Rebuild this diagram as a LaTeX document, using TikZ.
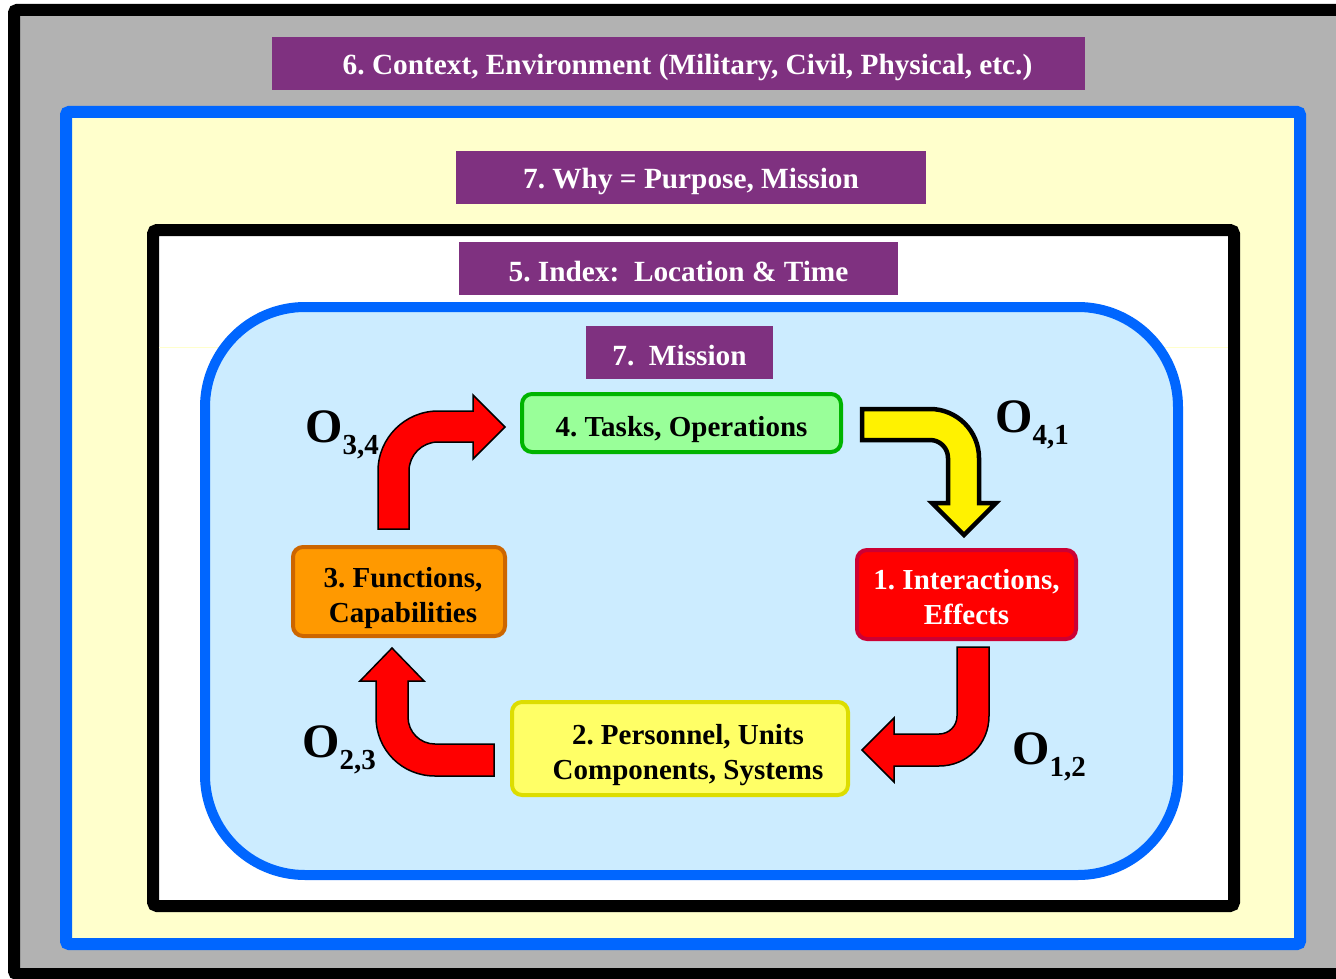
\documentclass[tikz,border=0pt]{standalone}
\usepackage{fontspec}
\setmainfont{Liberation Serif}
\frenchspacing
\definecolor{framegray}{HTML}{B2B2B2}
\definecolor{frameblue}{HTML}{0066FF}
\definecolor{cream}{HTML}{FFFFCC}
\definecolor{skyfill}{HTML}{CCECFF}
\definecolor{purp}{HTML}{7F3180}
\definecolor{greenfill}{HTML}{99FF99}
\definecolor{greenline}{HTML}{00B400}
\definecolor{redline}{HTML}{CC0033}
\definecolor{yelfill}{HTML}{FFFF66}
\definecolor{yelline}{HTML}{DDDD00}
\definecolor{orfill}{HTML}{FF9900}
\definecolor{orline}{HTML}{CC6600}
\begin{document}
\begin{tikzpicture}[x=1pt,y=-1pt,
  lbl/.style={fill=purp, inner sep=0pt},
  lbltext/.style={text=white, inner sep=0pt, font=\fontsize{29.3}{34}\selectfont\bfseries},
  stage/.style={rounded corners=10pt, line width=4pt, inner sep=0pt},
  stagetext/.style={align=center, inner sep=0pt, font=\fontsize{29}{35}\selectfont\bfseries},
  bent/.style={line width=1.5pt, draw=black, line join=miter},
  olabel/.style={inner sep=0pt, font=\bfseries}]
\useasboundingbox (0,0) rectangle (1336,979);
\begin{scope}
\clip (0,0) rectangle (1336,979);
% outer frame
\draw[line width=12pt, rounded corners=3pt, fill=framegray] (14,10) rectangle (1352,974);
\end{scope}
% blue frame with cream fill
\draw[line width=12pt, rounded corners=3pt, draw=frameblue, fill=cream] (66,112) rectangle (1300,944);
% black frame with white fill
\draw[line width=12pt, rounded corners=4pt, fill=white] (153,230) rectangle (1234,906);
\draw[cream, line width=1pt] (159,347) -- (1228,347);
% rounded mission area
\draw[line width=10pt, draw=frameblue, fill=skyfill, rounded corners=100pt] (205,307) rectangle (1178,875);

% title bars
\node[lbl, minimum width=813pt, minimum height=53pt] (ctx) at (678.5,63.5) {};
\node[lbltext] at ([xshift=9pt, yshift=-3.5pt]ctx.center) {6. Context, Environment (Military, Civil, Physical, etc.)};
\node[lbl, minimum width=470pt, minimum height=53pt] (why) at (691,177.5) {};
\node[lbltext] at ([yshift=-3.5pt]why.center) {7. Why = Purpose, Mission};
\node[lbl, minimum width=439pt, minimum height=53pt] (idx) at (678.5,268.5) {};
\node[lbltext] at ([yshift=-3pt]idx.center) {5. Index:\ \ Location \& Time};
\node[lbl, minimum width=187pt, minimum height=53pt] (mis) at (679.5,352.5) {};
\node[lbltext] at ([yshift=-3pt]mis.center) {7.\ \ Mission};

% stages
\node[stage, fill=greenfill, draw=greenline, minimum width=319pt, minimum height=58pt] (tasks) at (681.5,423) {};
\node[stagetext] at ([yshift=-7pt]tasks.center) {4. Tasks, Operations};
\node[stage, fill=red, draw=redline, minimum width=219pt, minimum height=89pt] (inter) at (966.5,594.5) {};
\node[stagetext, text=white] at ([yshift=-3pt]inter.center) {1. Interactions,\\Effects};
\node[stage, fill=yelfill, draw=yelline, minimum width=336pt, minimum height=93pt] (pers) at (680,748.5) {};
\node[stagetext] at ([xshift=8pt, yshift=-7pt]pers.center) {2. Personnel, Units\\Components, Systems};
\node[stage, fill=orfill, draw=orline, minimum width=212pt, minimum height=89pt] (func) at (399,591.5) {};
\node[stagetext] at ([xshift=4pt, yshift=-6.5pt]func.center) {3. Functions,\\Capabilities};

% bent arrows between stages
\filldraw[bent, fill=red] (378,529) -- (378,471) .. controls (378,438) and (405,411) .. (438,411)
  -- (473,411) -- (473,395) -- (505,427) -- (473,459) -- (473,442) -- (438,442)
  .. controls (422,442) and (409,455) .. (409,471) -- (409,529) -- cycle;
\filldraw[line width=4.5pt, draw=black, fill=yellow, line join=miter] (862,409) -- (930,409)
  .. controls (957,409) and (979,431) .. (979,458) -- (979,503) -- (996,503) -- (964,535)
  -- (932,503) -- (948,503) -- (948,458) .. controls (948,448) and (940,440) .. (930,440)
  -- (862,440) -- cycle;
\filldraw[bent, fill=red] (957,647) -- (989,647) -- (989,716) .. controls (989,744) and (967,766) .. (939,766)
  -- (894,766) -- (894,782) -- (862,750) -- (894,718) -- (894,734) -- (939,734)
  .. controls (949,734) and (957,726) .. (957,716) -- cycle;
\filldraw[bent, fill=red] (494,744) -- (494,776) -- (435,776) .. controls (402,776) and (376,750) .. (376,717)
  -- (376,681) -- (360,681) -- (392,648) -- (424,681) -- (408,681) -- (408,717)
  .. controls (408,732) and (420,744) .. (435,744) -- cycle;

% transition labels
\node[olabel, anchor=base west] (o34) at (305,442) {\fontsize{48}{48}\selectfont O\raisebox{-12pt}{\fontsize{29}{29}\selectfont 3,4}};
\node[olabel, anchor=base west] (o41) at (995,432) {\fontsize{48}{48}\selectfont O\raisebox{-12pt}{\fontsize{29}{29}\selectfont 4,1}};
\node[olabel, anchor=base west] (o12) at (1012,764) {\fontsize{48}{48}\selectfont O\raisebox{-12pt}{\fontsize{29}{29}\selectfont 1,2}};
\node[olabel, anchor=base west] (o23) at (302,757) {\fontsize{48}{48}\selectfont O\raisebox{-12pt}{\fontsize{29}{29}\selectfont 2,3}};
\end{tikzpicture}
\end{document}
